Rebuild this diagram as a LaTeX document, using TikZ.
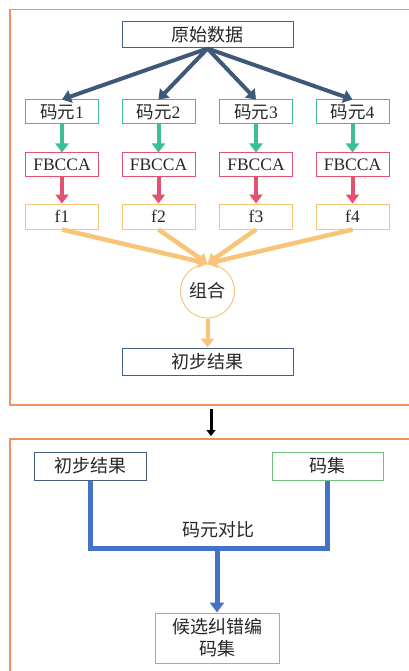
\documentclass[tikz,border=0pt]{standalone}
\usepackage{fontspec}
\setmainfont{Liberation Serif}
\newfontfamily\cjk{Noto Sans CJK SC}
\usetikzlibrary{arrows.meta}
\definecolor{frameor}{RGB}{240,145,95}
\definecolor{navy}{RGB}{70,96,130}
\definecolor{navyarr}{RGB}{62,88,120}
\definecolor{teal}{RGB}{62,190,150}
\definecolor{pinkr}{RGB}{228,80,112}
\definecolor{lor}{RGB}{248,196,120}
\definecolor{blu}{RGB}{68,114,196}
\definecolor{grn}{RGB}{112,190,128}
\tikzset{
  box/.style={draw, line width=1pt, inner sep=0pt, font=\fontsize{17.5}{19}\selectfont, text=black!85},
  mbox/.style={box, draw=teal, minimum width=73pt, minimum height=24pt},
  fbox/.style={box, draw=pinkr, minimum width=73pt, minimum height=23pt},
  ffbox/.style={box, draw=lor, minimum width=73pt, minimum height=25pt},
  arr/.style={line width=4pt, -{Triangle[width=13pt,length=9pt]}},
  cjkf/.style={font=\cjk\fontsize{18}{20}\selectfont},
  frame/.style={draw=frameor, line width=1.5pt}
}
\begin{document}
\begin{tikzpicture}[x=1pt,y=-1pt]
\useasboundingbox (0,0) rectangle (409,671);
\clip (0,0) rectangle (409,671);
\draw[frame] (10,9.5) rectangle (420,405);
\draw[frame] (10,439) rectangle (420,690);

\node[box, draw=navy, minimum width=171pt, minimum height=26pt, cjkf] (src) at (207.5,35) {原始数据};

\foreach \i/\x in {1/62,2/158.5,3/256,4/352.5}{
  \node[mbox] (m\i) at (\x,112) {{\cjk 码元}\i};
  \node[fbox] (fb\i) at (\x,164.5) {FBCCA};
  \node[ffbox] (f\i) at (\x,216.5) {f\i};
  \draw[arr, navyarr] (src.south) -- (m\i.north);
  \draw[arr, teal] (m\i.south) -- (fb\i.north);
  \draw[arr, pinkr] (fb\i.south) -- (f\i.north);
}
\node[circle, draw=lor, line width=1pt, minimum size=54pt, inner sep=0pt, cjkf, text=black!85] (comb) at (207.5,291) {组合};
\foreach \i in {1,...,4}{
  \draw[line width=4.5pt, lor, -{Triangle[width=13pt,length=9pt]}] (f\i.south) -- (comb.north);
}
\node[box, draw=navy, minimum width=171pt, minimum height=27pt, cjkf] (res1) at (207.5,361.5) {初步结果};
\draw[arr, lor] (comb.south) -- (res1.north);

\coordinate (ta) at (211,409);
\coordinate (tb) at (211,436);
\draw[line width=3pt, black, -{Triangle[width=9pt,length=6pt]}] (ta) -- (tb);

\node[box, draw=navy, minimum width=112pt, minimum height=28pt, cjkf] (res2) at (90,466) {初步结果};
\node[box, draw=grn, minimum width=111pt, minimum height=28pt, cjkf] (codes) at (327.5,466) {码集};
\coordinate (jn) at (217,548);
\draw[blu, line width=5pt] (res2.south) |- (jn) -| (codes.south);
\node[cjkf, text=black!85] (lbl) at (218,530) {码元对比};
\node[box, draw=frameor, minimum width=124pt, minimum height=50pt, align=center, font=\cjk\fontsize{18}{22}\selectfont] (cand) at (217,638) {候选纠错编\\码集};
\draw[blu, line width=5pt, -{Triangle[width=14pt,length=10pt]}] (jn) -- (cand.north);
\end{tikzpicture}
\end{document}
